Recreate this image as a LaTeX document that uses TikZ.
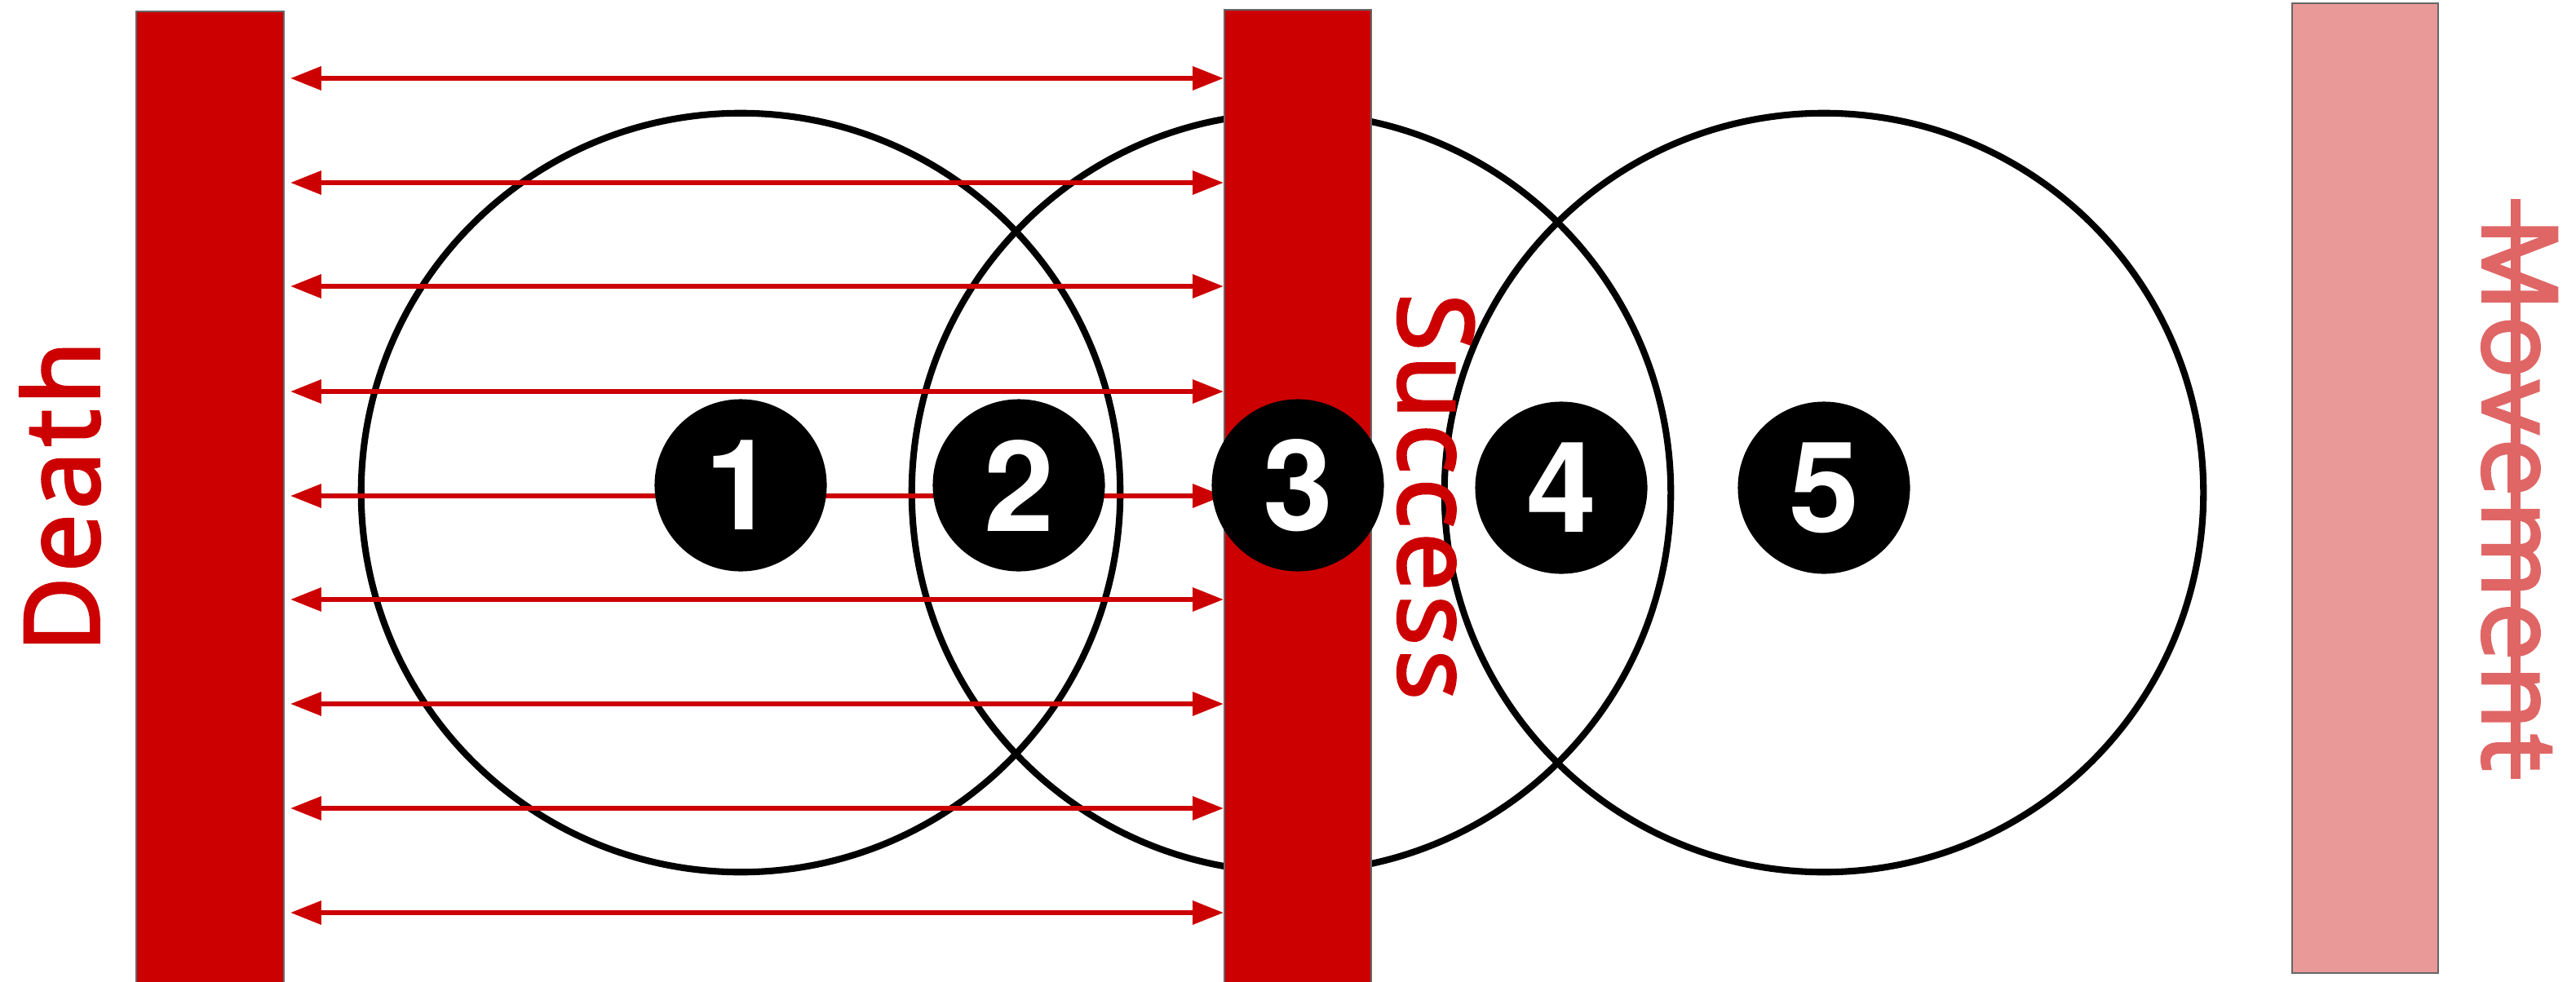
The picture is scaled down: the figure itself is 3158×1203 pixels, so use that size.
\documentclass[tikz,border=0pt]{standalone}
\usepackage{fontspec}
\usetikzlibrary{arrows.meta}
\newfontfamily\labelfont[LetterSpace=5,FakeBold=3]{Open Sans}
\newfontfamily\digitfont{TeX Gyre Heros}
\definecolor{barred}{HTML}{CC0000}
\definecolor{barpink}{HTML}{EA9999}
\definecolor{textpink}{HTML}{E06666}
\definecolor{bordergray}{HTML}{666666}
\tikzset{
  barbox/.style={rectangle, draw=bordergray, line width=0.6pt, inner sep=0pt},
  bigring/.style={draw=black, line width=2.3pt},
  twoarrow/.style={draw=barred, line width=1.7pt,
    {Triangle[length=10.8pt,width=8pt]}-{Triangle[length=10.8pt,width=8pt]}},
  stepdot/.style={circle, fill=black, minimum size=21.1mm, inner sep=0pt,
    text=white, font=\digitfont\bfseries\fontsize{44}{46}\selectfont},
  sidelabel/.style={inner sep=0pt, font=\labelfont\fontsize{36}{40}\selectfont}
}
\begin{document}
\begin{tikzpicture}[x=0.01cm,y=-0.01cm]
\useasboundingbox[fill=white] (0,0) rectangle (3158,1203);
% big circles
\draw[bigring] (908,604) circle [radius=46.5mm];
\draw[bigring] (1583,604) circle [radius=46.5mm];
\draw[bigring] (2236,604) circle [radius=46.5mm];
% bars
\node[barbox, fill=barred, minimum width=18.1mm, minimum height=119.6mm] (deathbar) at (257.5,612) {};
\node[barbox, fill=barred, minimum width=18.0mm, minimum height=119.8mm] (midbar) at (1591,611) {};
\node[barbox, fill=barpink, minimum width=17.9mm, minimum height=118.9mm] (movebar) at (2899.5,598.5) {};
% arrows
\foreach \yy [count=\i] in {96,224,351,480,608,735,863,991,1119} {
  \coordinate (L\i) at (356,\yy);
  \coordinate (R\i) at (1500,\yy);
  \draw[twoarrow] (L\i) -- (R\i);
}
% step dots
\node[stepdot] (s1) at (908,595) {1};
\node[stepdot] (s2) at (1249,595) {2};
\node[stepdot] (s3) at (1591,595) {3};
\node[stepdot] (s4) at (1914,598) {4};
\node[stepdot] (s5) at (2236,598) {5};
% labels
\node[sidelabel, text=barred, rotate=90, anchor=base] (death) at (121,609) {Death};
\node[sidelabel, text=barred, rotate=-90, anchor=base] (success) at (1715,609) {Success};
\node[sidelabel, text=textpink, rotate=-90, anchor=base] (movement) at (3044,606) {Movement};
\draw[draw=textpink, line width=3.4pt] (3084,244) -- (3084,955);
\end{tikzpicture}
\end{document}
